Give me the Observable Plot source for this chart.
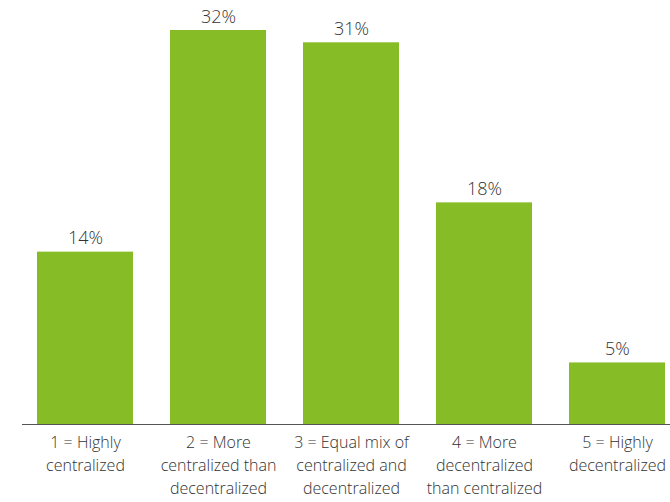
<!DOCTYPE html>
<html><head><meta charset="utf-8">
<script src="https://cdn.jsdelivr.net/npm/d3@7"></script>
<script src="https://cdn.jsdelivr.net/npm/@observablehq/plot@0.6"></script>
<style>body{margin:0;background:#fff}</style>
</head><body><div id="chart"></div>
<script>
const categories = ["1 = Highly\ncentralized", "2 = More\ncentralized than\ndecentralized", "3 = Equal mix of\ncentralized and\ndecentralized", "4 = More\ndecentralized\nthan centralized", "5 = Highly\ndecentralized"];
const values = [14, 32, 31, 18, 5];
const data = categories.map((c, i) => ({c, v: values[i]}));
const chart = Plot.plot({
  width: 670, height: 502,
  marginTop: 30, marginBottom: 78, marginLeft: 35, marginRight: 2,
  style: {fontFamily: "'Open Sans', sans-serif", fontSize: "16px", fontWeight: 300, color: "#333", background: "#fff"},
  x: {domain: categories, padding: 0.276, paddingOuter: 0, axis: null},
  y: {domain: [0, 32], axis: null},
  marks: [
    Plot.barY(data, {x: "c", y: "v", fill: "#86bc25"}),
    Plot.text(data, {x: "c", y: "v", text: d => d.v + "%", lineAnchor: "bottom", dy: -8, fill: "#333", fontSize: 18, fontWeight: 300}),
    Plot.ruleY([0], {stroke: "#555", strokeWidth: 1.2, insetLeft: -13, insetRight: -2}),
    Plot.axisX({label: null, tickSize: 0, tickPadding: 7, lineHeight: 1.44, fontSize: 16, fontWeight: 300, fill: "#333", textAnchor: "middle"})
  ]
});
document.getElementById("chart").append(chart);
</script></body></html>
